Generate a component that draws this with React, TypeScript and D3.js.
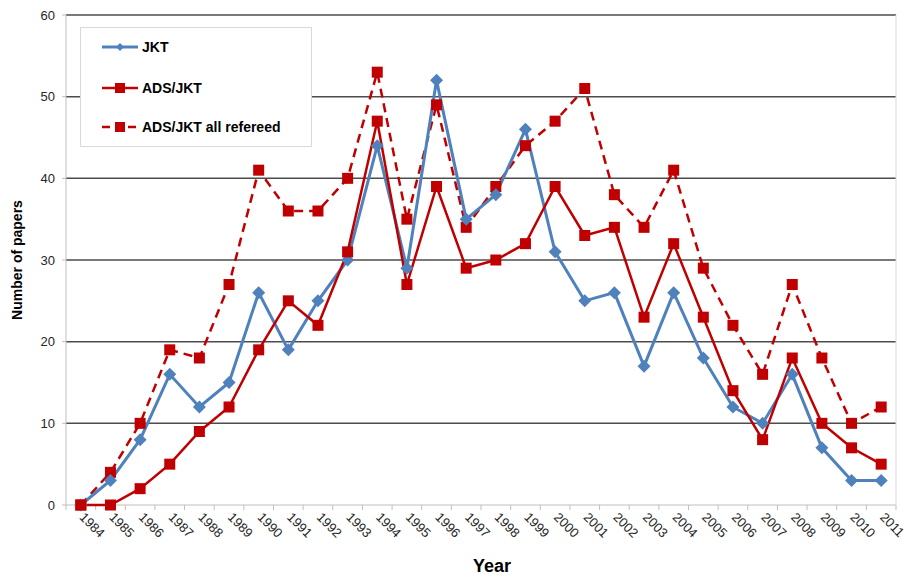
import React from "react";
import * as d3 from "d3";

const years = [
  "1984","1985","1986","1987","1988","1989","1990","1991","1992","1993",
  "1994","1995","1996","1997","1998","1999","2000","2001","2002","2003",
  "2004","2005","2006","2007","2008","2009","2010","2011",
];
const jkt = [0,3,8,16,12,15,26,19,25,30,44,29,52,35,38,46,31,25,26,17,26,18,12,10,16,7,3,3];
const adsJkt = [0,0,2,5,9,12,19,25,22,31,47,27,39,29,30,32,39,33,34,23,32,23,14,8,18,10,7,5];
const adsAll = [0,4,10,19,18,27,41,36,36,40,53,35,49,34,39,44,47,51,38,34,41,29,22,16,27,18,10,12];
const yTicks = [0,10,20,30,40,50,60];

const W = 906, H = 575;
const L = 66, R = 896, T = 15, B = 505;
const BLUE = "#4f81bd";
const RED = "#c00000";
const FONT = "Liberation Sans, Arial, sans-serif";

export default function App() {
  const x = d3.scaleBand<string>().domain(years).range([L, R]);
  const y = d3.scaleLinear().domain([0, 60]).range([B, T]);
  const cx = (i: number) => (x(years[i]) as number) + x.bandwidth() / 2;
  const line = d3.line<number>().x((_, i) => cx(i)).y((d) => y(d));

  const diamond = (px: number, py: number, s: number) =>
    `M${px},${py - s}L${px + s},${py}L${px},${py + s}L${px - s},${py}Z`;

  const boundaries = d3.range(years.length + 1).map((i) => L + i * x.step());

  return (
    <svg width={W} height={H} style={{ position: "absolute", left: 0, top: 0, background: "#fff" }} fontFamily={FONT}>
      <rect x={0} y={0} width={W} height={H} fill="#fff" />
      {/* gridlines */}
      {yTicks.map((t) => (
        <g key={t}>
          <line x1={L} x2={R} y1={y(t)} y2={y(t)} stroke={t === 0 ? "#bfbfbf" : "#4d4d4d"} strokeWidth={t === 0 ? 1 : 1.5} />
          <line x1={62} x2={L} y1={y(t)} y2={y(t)} stroke="#bfbfbf" strokeWidth={1} />
          <text x={55} y={y(t) + 4.5} textAnchor="end" fontSize={13} fill="#262626">{t}</text>
        </g>
      ))}
      {/* axes */}
      <line x1={L} x2={L} y1={T} y2={B} stroke="#bfbfbf" strokeWidth={1} />
      <line x1={R} x2={R} y1={T} y2={B} stroke="#d9d9d9" strokeWidth={1} />
      {boundaries.map((bx, i) => (
        <line key={i} x1={bx} x2={bx} y1={B} y2={B + 5} stroke="#bfbfbf" strokeWidth={1} />
      ))}
      {years.map((yr, i) => (
        <text key={yr} transform={`translate(${cx(i) - 2},${B + 13}) rotate(45)`} fontSize={13} fill="#262626">{yr}</text>
      ))}
      {/* axis titles */}
      <text transform={`translate(22,${(T + B) / 2}) rotate(-90)`} textAnchor="middle" fontSize={14} fontWeight="bold" fill="#000">Number of papers</text>
      <text x={492} y={572} textAnchor="middle" fontSize={18} fontWeight="bold" fill="#000">Year</text>

      {/* series */}
      <path d={line(adsAll) as string} fill="none" stroke={RED} strokeWidth={2.5} strokeDasharray="9,6" />
      <path d={line(jkt) as string} fill="none" stroke={BLUE} strokeWidth={3} />
      <path d={line(adsJkt) as string} fill="none" stroke={RED} strokeWidth={2.5} />
      {adsAll.map((v, i) => (
        <rect key={"a" + i} x={cx(i) - 5.5} y={y(v) - 5.5} width={11} height={11} fill={RED} />
      ))}
      {jkt.map((v, i) => (
        <path key={"j" + i} d={diamond(cx(i), y(v), 6.5)} fill={BLUE} />
      ))}
      {adsJkt.map((v, i) => (
        <rect key={"s" + i} x={cx(i) - 5.5} y={y(v) - 5.5} width={11} height={11} fill={RED} />
      ))}

      {/* legend */}
      <rect x={80.5} y={27.5} width={231} height={119} fill="#fff" stroke="#d9d9d9" strokeWidth={1} />
      <line x1={102} x2={138} y1={47} y2={47} stroke={BLUE} strokeWidth={3} />
      <path d={diamond(120, 47, 4)} fill={BLUE} />
      <text x={142} y={52} fontSize={14} fontWeight="bold" fill="#000">JKT</text>
      <line x1={102} x2={138} y1={88} y2={88} stroke={RED} strokeWidth={2.5} />
      <rect x={115} y={83} width={10} height={10} fill={RED} />
      <text x={142} y={93} fontSize={14} fontWeight="bold" fill="#000">ADS/JKT</text>
      <line x1={102} x2={138} y1={127} y2={127} stroke={RED} strokeWidth={2.5} strokeDasharray="8,5" />
      <rect x={115} y={122} width={10} height={10} fill={RED} />
      <text x={142} y={132} fontSize={14} fontWeight="bold" fill="#000">ADS/JKT all refereed</text>
    </svg>
  );
}
